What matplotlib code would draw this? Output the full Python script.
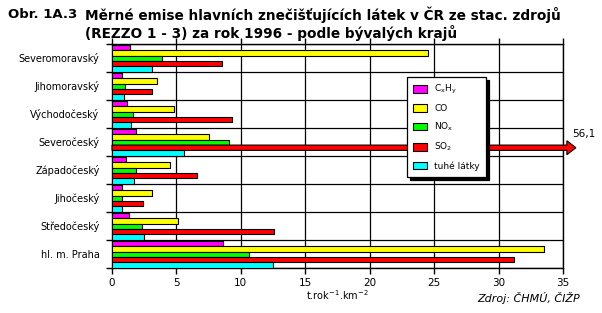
import matplotlib
matplotlib.use("Agg")
import matplotlib.pyplot as plt
import matplotlib.patches as mpatches
import numpy as np

categories = ["Severomoravský", "Jihomoravský", "Východočeský", "Severočeský",
              "Západočeský", "Jihočeský", "Středočeský", "hl. m. Praha"]
cxhy = [1.4, 0.8, 1.2, 1.9, 1.1, 0.75, 1.3, 8.6]
co = [24.5, 3.5, 4.8, 7.5, 4.5, 3.1, 5.1, 33.5]
nox = [3.9, 1.0, 1.6, 9.05, 1.9, 0.75, 2.3, 10.6]
so2 = [8.5, 3.1, 9.3, 56.1, 6.6, 2.4, 12.6, 31.2]
tuhe = [3.1, 0.9, 1.5, 5.6, 1.7, 0.8, 2.5, 12.5]
series_labels = ["C$_{\\rm x}$H$_{\\rm y}$", "CO", "NO$_{\\rm x}$", "SO$_{2}$", "tuhé látky"]
xticks = [0, 5, 10, 15, 20, 25, 30, 35]
colors = ["#FF00FF", "#FFFF00", "#00FF00", "#FF0000", "#00FFFF"]

plt.rcParams['font.family'] = ['DejaVu Sans']
plt.rcParams['mathtext.default'] = 'regular'

W, H = 602, 313
fig = plt.figure(figsize=(W / 100, H / 100), dpi=100)
ax = fig.add_axes([112 / W, 1 - 268 / H, (563 - 112) / W, (268 - 44) / H])

xmax = xticks[-1]
ax.set_xlim(0, xmax)
ax.set_ylim(len(categories), 0)

series = [cxhy, co, nox, so2, tuhe]
bh = 0.19
idx = np.arange(len(categories))
handles = []
for k, (vals, col, lab) in enumerate(zip(series, colors, series_labels)):
    y = idx + 0.04 + bh * k + bh / 2
    vals = np.asarray(vals, dtype=float)
    normal = vals <= xmax
    b = ax.barh(y[normal], vals[normal], height=bh, color=col, edgecolor='black',
                linewidth=0.8, zorder=3, label=lab)
    handles.append(b)
    for yy, v in zip(y[~normal], vals[~normal]):
        arr = mpatches.FancyArrow(0, yy, xmax + 1.0, 0, width=bh, head_width=0.5,
                                  head_length=0.7, length_includes_head=True,
                                  facecolor=col, edgecolor='black', linewidth=0.8,
                                  clip_on=False, zorder=4)
        ax.add_patch(arr)
        ax.text(xmax + 0.75, yy - 0.5, f"{v:.1f}".replace('.', ','), fontsize=7.5,
                ha='left', va='center', clip_on=False)

ax.set_xticks(xticks)
ax.set_xticklabels([str(t) for t in xticks], fontsize=7.5)
ax.set_yticks(idx + 0.5)
ax.set_yticklabels(categories, fontsize=7)
ax.set_yticks(np.arange(len(categories) + 1), minor=True)
ax.tick_params(axis='y', which='major', length=0, pad=9)
ax.tick_params(axis='y', which='minor', length=4, direction='out', width=1)
ax.tick_params(axis='x', which='major', length=4, direction='out', top=True,
               labeltop=False, width=1, pad=3)
ax.grid(axis='x', which='major', color='black', linewidth=0.9, zorder=1)
ax.grid(axis='y', which='minor', color='black', linewidth=0.9, zorder=1)
ax.set_axisbelow(True)
for s in ax.spines.values():
    s.set_color('black')
    s.set_linewidth(1.0)

ax.set_xlabel("t.rok$^{-1}$.km$^{-2}$", fontsize=7, labelpad=0)

leg = ax.legend(handles=handles, loc='upper left',
                bbox_to_anchor=(407 / W, 1 - 77 / H), bbox_transform=fig.transFigure,
                fontsize=6.5, frameon=True, fancybox=False, shadow={'color': 'black', 'alpha': 1},
                edgecolor='black', framealpha=1, borderpad=0.7, labelspacing=0.85,
                handlelength=1.5, handleheight=0.9, handletextpad=0.8, borderaxespad=0)
leg.get_frame().set_linewidth(0.9)
leg.set_zorder(10)

fig.text(8 / W, 1 - 15 / H, "Obr. 1A.3", fontsize=9.5, fontweight='bold', ha='left', va='center')
fig.text(85 / W, 1 - 15 / H, "Měrné emise hlavních znečišťujících látek v ČR ze stac. zdrojů",
         fontsize=9.8, fontweight='bold', ha='left', va='center')
fig.text(85 / W, 1 - 33 / H, "(REZZO 1 - 3) za rok 1996 - podle bývalých krajů",
         fontsize=9.8, fontweight='bold', ha='left', va='center')
fig.text(580 / W, 1 - 298 / H, "Zdroj: ČHMÚ, ČIŽP", fontsize=8, style='italic',
         ha='right', va='center')

fig.savefig("out.png", dpi=100)
